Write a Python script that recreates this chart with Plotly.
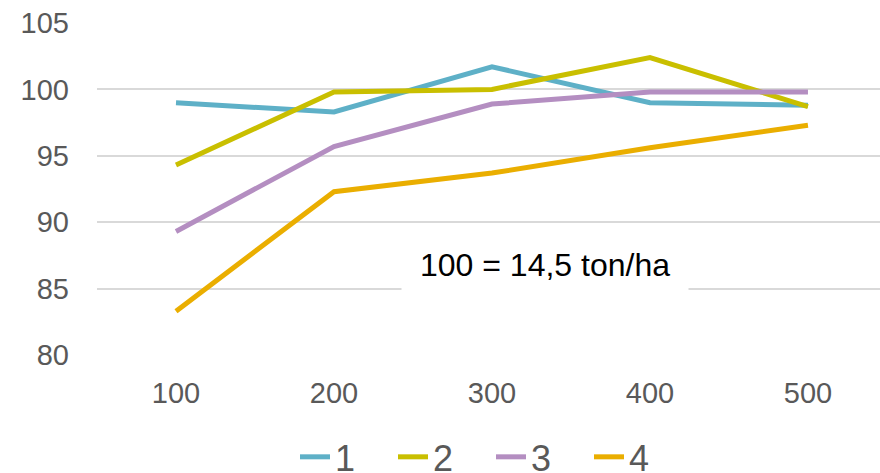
import plotly.graph_objects as go

categories = ["100", "200", "300", "400", "500"]
series_names = ["1", "2", "3", "4"]
s1 = [99.0, 98.3, 101.7, 99.0, 98.8]
s2 = [94.3, 99.8, 100.0, 102.4, 98.7]
s3 = [89.3, 95.7, 98.9, 99.8, 99.8]
s4 = [83.3, 92.3, 93.7, 95.6, 97.3]
y_ticks = [80, 85, 90, 95, 100, 105]
note = "100 = 14,5 ton/ha"

colors = ["#5EB0C7", "#C9BF00", "#B48EC1", "#EAAE00"]
FONT = "Liberation Sans, Arial, sans-serif"

fig = go.Figure()
for name, vals, col in zip(series_names, [s1, s2, s3, s4], colors):
    fig.add_trace(go.Scatter(x=categories, y=vals, name=name, mode="lines",
                             line=dict(color=col, width=5)))

fig.update_layout(
    width=880, height=473,
    margin=dict(l=97, r=0, t=23, b=118),
    paper_bgcolor="white", plot_bgcolor="white",
    font=dict(family=FONT, color="#595959", size=30),
    showlegend=True,
    legend=dict(orientation="h", xref="container", yref="container",
                x=295 / 880, xanchor="left", y=0.034, yanchor="middle",
                font=dict(size=36, color="#595959"),
                entrywidth=53, entrywidthmode="pixels",
                itemwidth=30, tracegroupgap=0),
    xaxis=dict(type="category", range=[-0.5, 4.456], showgrid=False,
               showline=False, zeroline=False, ticks="", ticklabelstandoff=18,
               automargin=False,
               tickfont=dict(size=29, color="#595959")),
    yaxis=dict(range=[80, 105], tickvals=y_ticks, showgrid=True,
               gridcolor="#D9D9D9", gridwidth=2, zeroline=False,
               showline=False, ticks="", ticklabelstandoff=27,
               automargin=False,
               tickfont=dict(size=29, color="#595959")),
    annotations=[dict(text=note, xref="paper", yref="paper",
                      x=0.572, y=0.271, xanchor="center", yanchor="middle",
                      showarrow=False,
                      font=dict(size=32, color="#000000", family=FONT),
                      bgcolor="white", borderpad=18)],
)

fig.write_html("out.html",
               config={"displayModeBar": False},
               post_script="document.body.style.margin='0';document.body.style.overflow='hidden';")
